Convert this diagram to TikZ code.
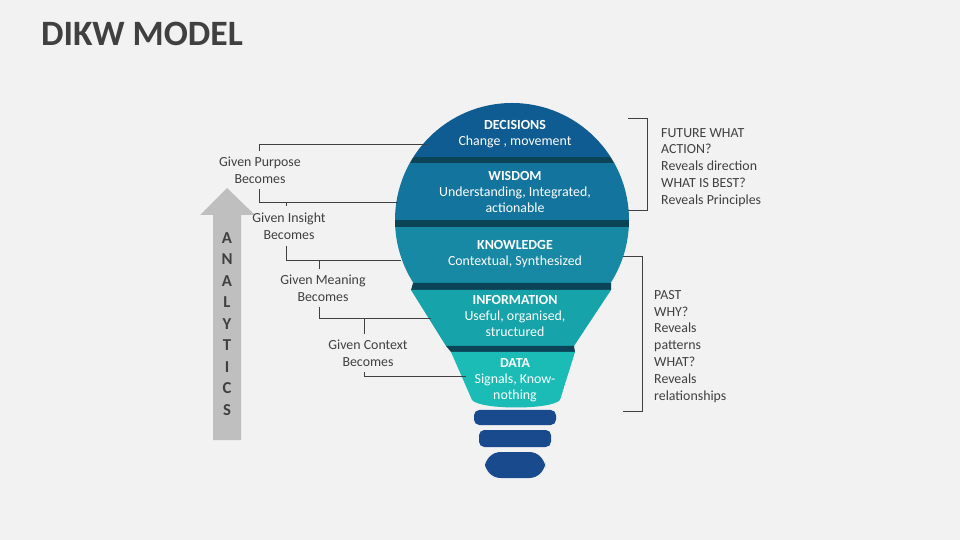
\documentclass[tikz,border=0pt]{standalone}
\usepackage{fontspec}
\setmainfont{Carlito}
\usetikzlibrary{positioning}
\definecolor{bg}{HTML}{F2F2F2}
\definecolor{cdec}{HTML}{0F5C93}
\definecolor{cwis}{HTML}{13749E}
\definecolor{ckno}{HTML}{1789A4}
\definecolor{cinf}{HTML}{16A3A9}
\definecolor{cdat}{HTML}{1ABCB5}
\definecolor{cgap}{HTML}{0C4457}
\definecolor{cbase}{HTML}{1A4A8E}
\definecolor{ctxt}{HTML}{404040}
\begin{document}
\begin{tikzpicture}
[
	              x = 0.02cm, y = -0.02cm,
	   band/.style = { text=white, font=\fontsize{7.9}{9.2}\selectfont, align=center },
	  given/.style = { text=ctxt, font=\fontsize{7.9}{9.6}\selectfont, align=center },
	   side/.style = { text=ctxt, font=\fontsize{7.9}{9.6}\selectfont, align=left, anchor=north west },
	   conn/.style = { draw=ctxt, line width=0.5pt }
]
	% background and title
	\fill [bg] (0,0) rectangle (960,540);
	\node (title) at (35,34) [anchor=west, text=ctxt, font=\fontsize{20.3}{23}\bfseries] {DIKW MODEL};

	% analytics arrow
	\fill [gray!50] (213,440) -- (213,215) -- (200,215) -- (227,188) -- (255,215) -- (241,215) -- (241,440) -- cycle;
	\foreach \ch [count=\i] in {A,N,A,L,Y,T,I,C,S}
		\node (an\i) at (227,238+21.5*\i-21.5) [text=ctxt, font=\fontsize{9.5}{11}\bfseries] {\ch};

	% bulb: round part
	\begin{scope}
		\clip (512,220) circle (117);
		\fill [cdec] (380,100) rectangle (650,157);
		\fill [cgap] (380,157) rectangle (650,163);
		\fill [cwis] (380,163) rectangle (650,220);
		\fill [cgap] (380,220) rectangle (650,227);
		\fill [ckno] (380,227) rectangle (650,283);
	\end{scope}
	% bulb: lower part
	\fill [cgap] (413,283) -- (611,283) -- (611,290) -- (411,290) -- cycle;
	\fill [cinf] (411,290) -- (611,290) -- (574,346) -- (446,346) -- cycle;
	\fill [cgap] (446,346) -- (574,346) -- (575,352) -- (451,352) -- cycle;
	\fill [cdat] (451,352) -- (575,352) -- (560,400) .. controls (552,410) and (480,410) .. (472,400) -- cycle;
	% base
	\fill [cbase, rounded corners=3] (474,410) rectangle (556,425);
	\fill [cbase, rounded corners=3] (479,430) rectangle (551,447);
	\fill [cbase, rounded corners=9] (485,452) rectangle (545,478);

	% band texts
	\node (dec) at (515,134) [band] {\textbf{DECISIONS}\\Change , movement};
	\node (wis) at (515,192) [band] {\textbf{WISDOM}\\Understanding, Integrated,\\actionable};
	\node (kno) at (515,254) [band] {\textbf{KNOWLEDGE}\\Contextual, Synthesized};
	\node (inf) at (515,316) [band] {\textbf{INFORMATION}\\Useful, organised,\\structured};
	\node (dat) at (515,380) [band] {\textbf{DATA}\\Signals, Know-\\nothing};

	% left labels
	\node (gp) at (260,170) [given] {Given Purpose\\Becomes};
	\node (gi) at (289,226) [given] {Given Insight\\Becomes};
	\node (gm) at (323,288) [given] {Given Meaning\\Becomes};
	\node (gc) at (368,353) [given] {Given Context\\Becomes};

	% left connectors
	\draw [conn] (gp.north -| 259,0) -- (259,144) -- (427,144);
	\draw [conn] (gp.south -| 259,0) -- (259,202) -- (398,202);
	\draw [conn] (286,202) -- (gi.north -| 286,0);
	\draw [conn] (gi.south -| 286,0) -- (286,260) -- (401,260);
	\draw [conn] (319,260) -- (gm.north -| 319,0);
	\draw [conn] (gm.south -| 319,0) -- (319,318) -- (431,318);
	\draw [conn] (364,318) -- (gc.north -| 364,0);
	\draw [conn] (gc.south -| 364,0) -- (364,376) -- (466,376);

	% right brackets
	\draw [conn] (628,118) -- (647,118) -- (647,210) -- (628,210);
	\draw [conn] (623,256) -- (642,256) -- (642,411) -- (623,411);
	\node (fut) at (655,122) [side] {FUTURE WHAT\\ACTION?\\Reveals direction\\WHAT IS BEST?\\Reveals Principles};
	\node (pst) at (648,284) [side] {PAST\\WHY?\\Reveals\\patterns\\WHAT?\\Reveals\\relationships};
\end{tikzpicture}
\end{document}
